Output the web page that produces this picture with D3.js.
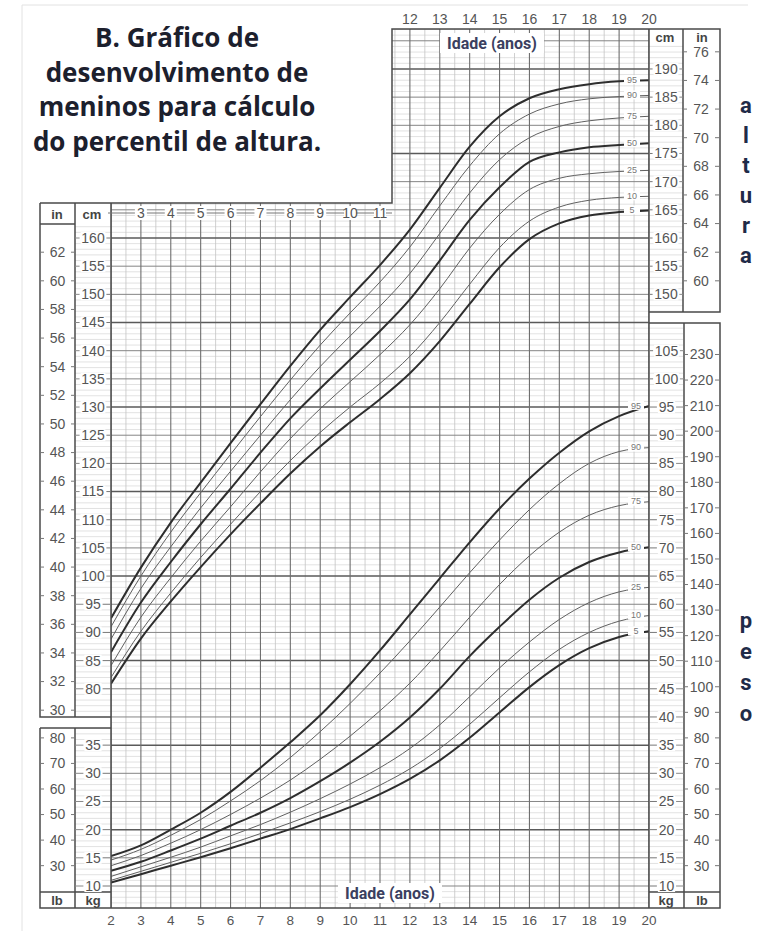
<!DOCTYPE html>
<html>
<head>
<meta charset="utf-8">
<script src="https://cdn.jsdelivr.net/npm/d3@7"></script>
<style>
  body { margin: 0; background: #fff; }
  svg { display: block; }
</style>
</head>
<body>
<div id="chart"></div>
<script>
// ============================
// Data
// ============================
const idades = [2, 3, 4, 5, 6, 7, 8, 9, 10, 11, 12, 13, 14, 15, 16, 17, 18, 19, 20];
const percentis = [5, 10, 25, 50, 75, 90, 95];

// estatura (cm) por percentil
const altura5  = [80.9, 88.9, 95.5, 101.6, 107.4, 112.9, 118.2, 123.0, 127.3, 131.4, 136.0, 141.7, 148.3, 154.8, 159.8, 162.6, 164.0, 164.6, 164.9];
const altura10 = [82.0, 90.2, 97.0, 103.3, 109.2, 115.0, 120.5, 125.5, 130.0, 134.2, 139.0, 145.0, 151.8, 158.3, 163.0, 165.5, 166.7, 167.2, 167.4];
const altura25 = [84.1, 92.7, 99.7, 106.2, 112.3, 118.5, 124.4, 129.7, 134.5, 139.3, 144.6, 151.0, 158.2, 164.2, 168.6, 170.6, 171.4, 171.8, 172.0];
const altura50 = [86.5, 95.3, 102.5, 109.2, 115.5, 121.9, 128.0, 133.3, 138.4, 143.5, 149.1, 156.0, 163.2, 169.0, 173.5, 175.2, 176.1, 176.5, 176.8];
const altura75 = [88.8, 97.8, 105.2, 112.1, 118.6, 125.0, 131.3, 137.2, 142.6, 147.9, 153.7, 160.8, 168.0, 173.9, 177.8, 179.8, 180.8, 181.3, 181.6];
const altura90 = [91.0, 100.0, 107.8, 114.8, 121.6, 128.3, 134.8, 141.0, 146.7, 152.2, 158.4, 165.7, 172.8, 178.5, 182.0, 183.8, 184.7, 185.1, 185.3];
const altura95 = [92.5, 101.5, 109.5, 116.6, 123.6, 130.5, 137.3, 143.7, 149.5, 155.2, 161.5, 168.9, 176.2, 181.6, 184.8, 186.4, 187.3, 187.8, 188.0];

// peso (kg) por percentil
const peso5  = [10.6, 12.1, 13.6, 15.1, 16.7, 18.4, 20.1, 22.0, 24.0, 26.3, 29.0, 32.3, 36.3, 40.8, 45.3, 49.2, 52.2, 54.2, 55.2];
const peso10 = [11.0, 12.6, 14.2, 15.8, 17.5, 19.3, 21.2, 23.2, 25.4, 27.9, 30.8, 34.4, 38.7, 43.4, 48.0, 52.0, 55.0, 57.0, 58.0];
const peso25 = [11.7, 13.4, 15.1, 16.9, 18.9, 20.9, 23.1, 25.5, 28.1, 31.0, 34.4, 38.6, 43.6, 48.7, 53.3, 57.3, 60.3, 62.2, 63.0];
const peso50 = [12.7, 14.3, 16.3, 18.4, 20.7, 23.0, 25.6, 28.6, 31.9, 35.6, 39.9, 45.0, 50.8, 56.0, 60.8, 64.7, 67.5, 69.2, 70.1];
const peso75 = [13.6, 15.4, 17.6, 20.0, 22.7, 25.6, 28.8, 32.5, 36.6, 41.1, 46.0, 51.7, 57.7, 63.5, 68.6, 72.8, 75.8, 77.5, 78.2];
const peso90 = [14.6, 16.5, 19.0, 21.8, 25.1, 28.7, 32.8, 37.4, 42.4, 47.8, 53.5, 59.5, 65.6, 71.4, 76.8, 81.4, 85.0, 87.1, 87.8];
const peso95 = [15.3, 17.2, 20.0, 23.0, 26.7, 31.0, 35.5, 40.3, 45.8, 51.8, 58.2, 64.6, 71.0, 77.0, 82.3, 86.9, 90.7, 93.4, 95.2];

// tick labels
const idadesTopo = [12, 13, 14, 15, 16, 17, 18, 19, 20];
const idadesMeio = [3, 4, 5, 6, 7, 8, 9, 10, 11];
const cmEsq = [80, 85, 90, 95, 100, 105, 110, 115, 120, 125, 130, 135, 140, 145, 150, 155, 160];
const inEsq = [30, 32, 34, 36, 38, 40, 42, 44, 46, 48, 50, 52, 54, 56, 58, 60, 62];
const kgEsq = [10, 15, 20, 25, 30, 35];
const lbEsq = [30, 40, 50, 60, 70, 80];
const cmDir = [150, 155, 160, 165, 170, 175, 180, 185, 190];
const inDir = [60, 62, 64, 66, 68, 70, 72, 74, 76];
const kgDir = [10, 15, 20, 25, 30, 35, 40, 45, 50, 55, 60, 65, 70, 75, 80, 85, 90, 95, 100, 105];
const lbDir = [30, 40, 50, 60, 70, 80, 90, 100, 110, 120, 130, 140, 150, 160, 170, 180, 190, 200, 210, 220, 230];

const titulo = ["B. Gráfico de", "desenvolvimento de", "meninos para cálculo", "do percentil de altura."];

// ============================
// Setup
// ============================
const width = 760, height = 931;
const svg = d3.select("#chart").append("svg")
  .attr("width", width).attr("height", height)
  .attr("viewBox", [0, 0, width, height]);

const x = d3.scaleLinear().domain([2, 20]).range([111, 649]);
const yCm = d3.scaleLinear().domain([45, 160]).range([886, 238]);
const yKg = d3.scaleLinear().domain([10, 125]).range([886, 238]);
const yIn = v => yCm(v * 2.54);
const yLb = v => yKg(v * 0.45359);

const gx0 = 111, gx1 = 649, gyTop = 29, gyBot = 908, boxX = 392, boxY = 203;
const frame = "#4a4a4a", lbl = "#555";
const numFont = "'Liberation Sans', Arial, sans-serif";

// clip paths
const defs = svg.append("defs");
defs.append("clipPath").attr("id", "grade")
  .append("path")
  .attr("d", `M${boxX},${gyTop}H${gx1}V${gyBot}H${gx0}V${boxY}H${boxX}Z`);
const colClip = defs.append("clipPath").attr("id", "colunas");
colClip.append("path")
  .attr("d", `M${boxX},${gyTop}H${gx1}V${gyBot}H${gx0}V${boxY}H${boxX}Z`);
[[75, 224, 36, 493], [75, 728, 36, 164], [649, 45, 34, 267], [649, 323, 34, 569]]
  .forEach(r => colClip.append("rect").attr("x", r[0]).attr("y", r[1]).attr("width", r[2]).attr("height", r[3]));

// faint page frame
svg.append("path").attr("d", "M22,931V5H748").attr("fill", "none").attr("stroke", "#e2e2e2");

// ============================
// Grid
// ============================
const fine = d3.range(41, 198);
svg.append("g").attr("clip-path", "url(#colunas)")
  .selectAll("line").data(fine.filter(d => d % 5 !== 0)).join("line")
  .attr("x1", 40).attr("x2", 720)
  .attr("y1", d => yCm(d)).attr("y2", d => yCm(d))
  .attr("stroke", "#d6d6d6").attr("stroke-width", 0.7);

const grid = svg.append("g").attr("clip-path", "url(#grade)");
grid.selectAll(".half").data(idades.slice(0, -1)).join("line")
  .attr("x1", d => x(d + 0.5)).attr("x2", d => x(d + 0.5))
  .attr("y1", gyTop).attr("y2", gyBot)
  .attr("stroke", "#c4c4c4").attr("stroke-width", 0.8);
grid.selectAll(".cinco").data(fine.filter(d => d % 5 === 0)).join("line")
  .attr("x1", gx0).attr("x2", gx1)
  .attr("y1", d => yCm(d)).attr("y2", d => yCm(d))
  .attr("stroke", d => d % 15 === 10 ? "#5a5a5a" : "#858585")
  .attr("stroke-width", d => d % 15 === 10 ? 1.5 : 1);
grid.selectAll(".ano").data(idades).join("line")
  .attr("x1", d => x(d)).attr("x2", d => x(d))
  .attr("y1", gyTop).attr("y2", gyBot)
  .attr("stroke", "#6e6e6e").attr("stroke-width", 1.1);

// ============================
// Curves
// ============================
const linha = d3.line().curve(d3.curveMonotoneX);
const alturas = [altura5, altura10, altura25, altura50, altura75, altura90, altura95];
const pesos = [peso5, peso10, peso25, peso50, peso75, peso90, peso95];
const forte = p => p === 5 || p === 50 || p === 95;

const curvas = svg.append("g").attr("clip-path", "url(#grade)").attr("fill", "none");
function desenha(series, y, labelX) {
  series.forEach((s, i) => {
    const p = percentis[i];
    curvas.append("path")
      .attr("d", linha(idades.map((a, j) => [x(a), y(s[j])])))
      .attr("stroke", forte(p) ? "#2e2e2e" : "#606060")
      .attr("stroke-width", forte(p) ? 2 : 1);
  });
  const lab = svg.append("g");
  series.forEach((s, i) => {
    const yy = y(s[s.length - 1]) - 0.5;
    lab.append("rect").attr("x", labelX - 8).attr("y", yy - 4.5)
      .attr("width", 16).attr("height", 9).attr("fill", "#fff");
    lab.append("text").attr("x", labelX).attr("y", yy)
      .attr("dy", "0.35em").attr("text-anchor", "middle")
      .attr("font-family", numFont).attr("font-size", 9).attr("fill", "#777")
      .text(percentis[i]);
  });
}
desenha(alturas, yCm, 632);
desenha(pesos, yKg, 636);

// ============================
// Frames & side columns
// ============================
const f = svg.append("g").attr("stroke", frame).attr("fill", "none").attr("stroke-width", 1.5);
[
  `M40,${boxY}H${boxX}V${gyTop}H720V312H${gx1}`,
  `M40,${boxY}V717H${gx0}`, "M75,203V717", "M40,224H75",
  `M40,728H${gx0}`, "M40,728V908H720V323H649", "M75,728V908", "M40,892H111",
  `M${gx0},${boxY}V${gyBot}`, `M${gx1},${gyTop}V${gyBot}`,
  "M683,29V312", "M684,323V908", "M649,892H720"
].forEach(d => f.append("path").attr("d", d));

// row of ages inside the upper-left
svg.append("line").attr("x1", 108).attr("x2", boxX).attr("y1", 213).attr("y2", 213)
  .attr("stroke", "#777").attr("stroke-width", 1);

function rotulo(g, tx, ty, t, size, anchor) {
  g.append("text").attr("x", tx).attr("y", ty).attr("dy", "0.35em")
    .attr("text-anchor", anchor || "middle")
    .attr("font-family", numFont).attr("font-size", size).attr("fill", lbl).text(t);
}
function coluna(valores, y, x0, x1, ligaEsq, ligaDir) {
  const g = svg.append("g");
  const cx = (x0 + x1) / 2;
  valores.forEach(v => {
    const yy = y(v);
    const w = String(v).length * 7.6 / 2 + 2;
    g.append("line").attr("x1", x0).attr("x2", cx - w).attr("y1", yy).attr("y2", yy)
      .attr("stroke", ligaEsq ? "#777" : "#888").attr("stroke-width", 1);
    g.append("line").attr("x1", cx + w).attr("x2", x1).attr("y1", yy).attr("y2", yy)
      .attr("stroke", ligaDir ? "#777" : "#888").attr("stroke-width", 1);
    g.append("rect").attr("x", cx - w + 1).attr("y", yy - 6).attr("width", 2 * w - 2).attr("height", 12)
      .attr("fill", "#fff");
    rotulo(g, cx, yy, v, 14);
  });
}
// tick stubs only next to the labels
function colunaCurta(valores, y, x0, x1) {
  const g = svg.append("g");
  const cx = (x0 + x1) / 2;
  valores.forEach(v => {
    const yy = y(v);
    g.append("line").attr("x1", x0).attr("x2", x0 + 4).attr("y1", yy).attr("y2", yy).attr("stroke", "#777");
    g.append("line").attr("x1", x1 - 4).attr("x2", x1).attr("y1", yy).attr("y2", yy).attr("stroke", "#777");
    rotulo(g, cx, yy, v, 14);
  });
}
colunaCurta(inEsq, yIn, 40, 75);
coluna(cmEsq, yCm, 75, 111, false, true);
colunaCurta(lbEsq, yLb, 40, 75);
coluna(kgEsq, yKg, 75, 111, false, true);
coluna(cmDir, yCm, 649, 683, true, false);
colunaCurta(inDir, yIn, 683, 719);
coluna(kgDir, yKg, 649, 684, true, false);
colunaCurta(lbDir, yLb, 684, 719);

// headers
const hdr = svg.append("g").attr("font-family", numFont).attr("font-weight", "bold")
  .attr("font-size", 13).attr("fill", "#444").attr("text-anchor", "middle");
[["in", 57, 214], ["cm", 92, 214], ["cm", 665, 37], ["in", 702, 37],
 ["lb", 57, 900], ["kg", 93, 900], ["kg", 666, 900], ["lb", 702, 900]]
  .forEach(h => hdr.append("text").attr("x", h[1]).attr("y", h[2]).attr("dy", "0.35em").text(h[0]));

// age labels
const ag = svg.append("g");
idadesTopo.forEach(a => rotulo(ag, x(a), 19, a, 14));
idades.forEach(a => rotulo(ag, x(a), 920, a, 13.5));
idadesMeio.forEach(a => {
  ag.append("rect").attr("x", x(a) - 6).attr("y", 206).attr("width", 12).attr("height", 14).attr("fill", "#fff");
  rotulo(ag, x(a), 213, a, 14);
});

// "Idade (anos)"
[[492, 43], [390, 893]].forEach(p => {
  svg.append("rect").attr("x", p[0] - 52).attr("y", p[1] - 10).attr("width", 104).attr("height", 20).attr("fill", "#fff");
  svg.append("text").attr("x", p[0]).attr("y", p[1]).attr("dy", "0.35em")
    .attr("text-anchor", "middle")
    .attr("font-family", "'Liberation Sans Narrow', 'Roboto', sans-serif")
    .attr("font-weight", "bold").attr("font-size", 16).attr("fill", "#3b4060")
    .text("Idade (anos)");
});

// title
svg.append("g").selectAll("text").data(titulo).join("text")
  .attr("x", 177).attr("y", (d, i) => 47 + i * 34.5)
  .attr("text-anchor", "middle")
  .attr("font-family", "'Open Sans', Roboto, sans-serif").attr("font-weight", "bold")
  .attr("font-size", 26).attr("fill", "#1c202d")
  .text(d => d);

// vertical words at right
const lado = svg.append("g").attr("font-family", "Roboto, sans-serif").attr("font-weight", "bold")
  .attr("font-size", 22).attr("fill", "#1f2b48").attr("text-anchor", "middle");
"altura".split("").forEach((c, i) => lado.append("text").attr("x", 746).attr("y", 113 + i * 30).text(c));
"peso".split("").forEach((c, i) => lado.append("text").attr("x", 746).attr("y", 628 + i * 31).text(c));
</script>
</body>
</html>
